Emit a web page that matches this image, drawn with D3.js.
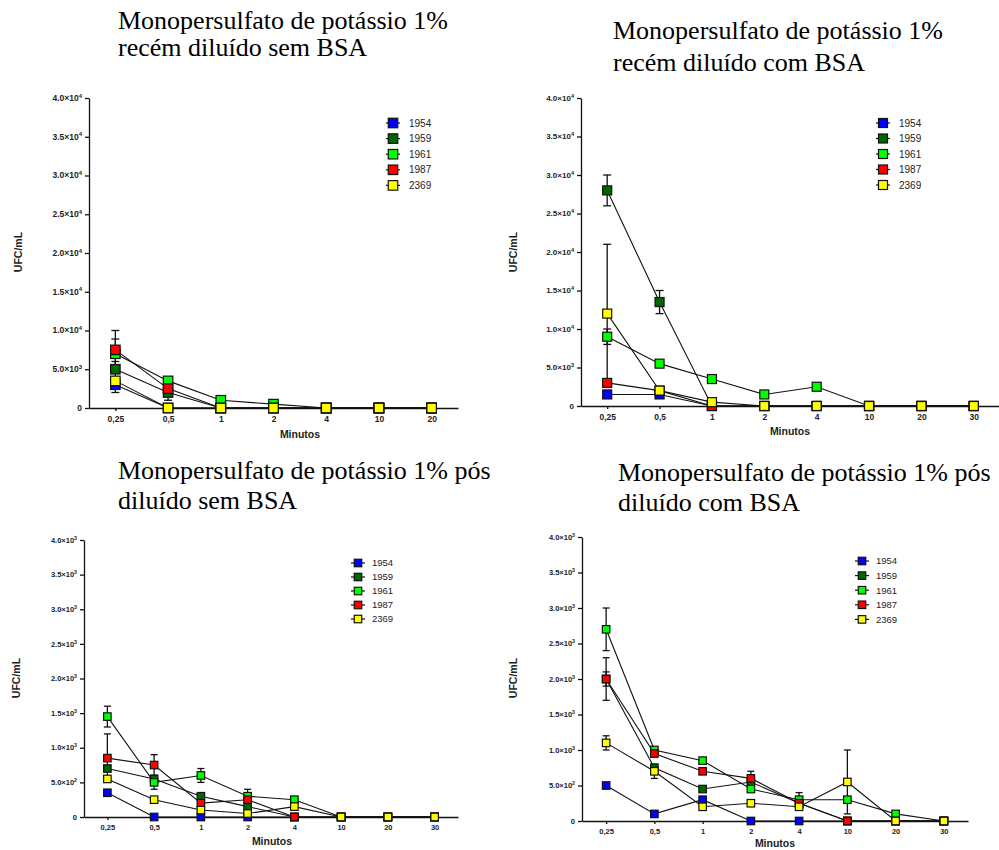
<!DOCTYPE html>
<html><head><meta charset="utf-8">
<script src="https://cdn.jsdelivr.net/npm/d3@7"></script>
<style>body{margin:0;background:#fff}svg{display:block}</style>
</head><body>
<script>
// ---------- DATA ----------
const strains = ["1954", "1959", "1961", "1987", "2369"];
const catsA = ["0,25", "0,5", "1", "2", "4", "10", "20"];
const catsB = ["0,25", "0,5", "1", "2", "4", "10", "20", "30"];

const ticksTop = [0, 5000, 10000, 15000, 20000, 25000, 30000, 35000, 40000];
const tickLabelsTop = [["0", ""], ["5.0×10", "3"], ["1.0×10", "4"], ["1.5×10", "4"], ["2.0×10", "4"], ["2.5×10", "4"], ["3.0×10", "4"], ["3.5×10", "4"], ["4.0×10", "4"]];
const ticksBottom = [0, 500, 1000, 1500, 2000, 2500, 3000, 3500, 4000];
const tickLabelsBottom = [["0", ""], ["5.0×10", "2"], ["1.0×10", "3"], ["1.5×10", "3"], ["2.0×10", "3"], ["2.5×10", "3"], ["3.0×10", "3"], ["3.5×10", "3"], ["4.0×10", "3"]];

// Panel 1: recém diluído sem BSA
const p1Values = [
  [3000, 0, 0, 0, 0, 0, 0],
  [5000, 2000, 0, 0, 0, 0, 0],
  [7000, 3500, 1000, 500, 0, 0, 0],
  [7500, 2500, 0, 0, 0, 0, 0],
  [3500, 0, 0, 0, 0, 0, 0]
];
const p1Errors = [
  [1000, 0, 0, 0, 0, 0, 0],
  [1000, 1000, 0, 0, 0, 0, 0],
  [1900, 0, 0, 0, 0, 0, 0],
  [2500, 0, 0, 0, 0, 0, 0],
  [0, 0, 0, 0, 0, 0, 0]
];
// Panel 2: recém diluído com BSA
const p2Values = [
  [1500, 1500, 0, 0, 0, 0, 0, 0],
  [28000, 13500, 0, 0, 0, 0, 0, 0],
  [9000, 5500, 3500, 1500, 2500, 0, 0, 0],
  [3000, 2000, 0, 0, 0, 0, 0, 0],
  [12000, 2000, 500, 0, 0, 0, 0, 0]
];
const p2Errors = [
  [0, 0, 0, 0, 0, 0, 0, 0],
  [2000, 1500, 0, 0, 0, 0, 0, 0],
  [1000, 0, 0, 0, 0, 0, 0, 0],
  [500, 0, 0, 0, 0, 0, 0, 0],
  [9000, 0, 0, 0, 0, 0, 0, 0]
];
// Panel 3: pós diluído sem BSA
const p3Values = [
  [350, 0, 0, 0, 0, 0, 0, 0],
  [700, 550, 300, 150, 0, 0, 0, 0],
  [1450, 500, 600, 300, 250, 0, 0, 0],
  [850, 750, 200, 250, 0, 0, 0, 0],
  [550, 250, 100, 50, 150, 0, 0, 0]
];
const p3Errors = [
  [0, 0, 0, 0, 0, 0, 0, 0],
  [0, 0, 0, 0, 0, 0, 0, 0],
  [150, 100, 100, 100, 0, 0, 0, 0],
  [350, 150, 0, 0, 0, 0, 0, 0],
  [0, 0, 0, 0, 0, 0, 0, 0]
];
// Panel 4: pós diluído com BSA
const p4Values = [
  [500, 100, 300, 0, 0, 0, 0, 0],
  [2000, 750, 450, 550, 250, 0, 0, 0],
  [2700, 1000, 850, 450, 300, 300, 100, 0],
  [2000, 950, 700, 600, 250, 0, 0, 0],
  [1100, 700, 200, 250, 200, 550, 0, 0]
];
const p4Errors = [
  [0, 0, 0, 0, 0, 0, 0, 0],
  [100, 0, 0, 0, 0, 0, 0, 0],
  [300, 0, 0, 0, 100, 0, 0, 0],
  [300, 0, 0, 100, 0, 0, 0, 0],
  [100, 100, 0, 0, 0, 450, 0, 0]
];
const titles = [
  ["Monopersulfato de potássio 1%", "recém diluído sem BSA"],
  ["Monopersulfato de potássio 1%", "recém diluído com BSA"],
  ["Monopersulfato de potássio 1% pós", "diluído sem BSA"],
  ["Monopersulfato de potássio 1% pós", "diluído com BSA"]
];

// ---------- STYLE / LAYOUT ----------
const colors = ["#0000ff", "#006600", "#00ff00", "#ff0000", "#ffff00"];
const SANS = "Arial, 'Liberation Sans', sans-serif";
const SERIF = "'Times New Roman', 'Liberation Serif', serif";

const svg = d3.select("body").append("svg").attr("width", 999).attr("height", 850);

const panels = [
  {cats: catsA, values: p1Values, errors: p1Errors, max: 40000, ticks: ticksTop, tlabels: tickLabelsTop,
   x0: 89, x1: 458, yTop: 98, yZero: 408, ms: 9.5, cap: 8, tfs: 8.5, xfs: 8.5,
   legX: 393, legY: 123, legDy: 15.6, legTx: 409, legFs: 10,
   ylab: [18, 252], xlab: [300, 438], title: {x: 118, y1: 29, y2: 56}},
  {cats: catsB, values: p2Values, errors: p2Errors, max: 40000, ticks: ticksTop, tlabels: tickLabelsTop,
   x0: 581, x1: 1000, yTop: 98, yZero: 406, ms: 9, cap: 8, tfs: 8, xfs: 8.5,
   legX: 883, legY: 123, legDy: 15.5, legTx: 899, legFs: 10,
   ylab: [513, 252], xlab: [790, 435], title: {x: 613, y1: 39, y2: 71}},
  {cats: catsB, values: p3Values, errors: p3Errors, max: 4000, ticks: ticksBottom, tlabels: tickLabelsBottom,
   x0: 84, x1: 458, yTop: 540, yZero: 817, ms: 7.5, cap: 7, tfs: 7.5, xfs: 7.5,
   legX: 358, legY: 563, legDy: 14, legTx: 372, legFs: 9.5,
   ylab: [16, 678], xlab: [272, 845], title: {x: 118, y1: 479, y2: 509}},
  {cats: catsB, values: p4Values, errors: p4Errors, max: 4000, ticks: ticksBottom, tlabels: tickLabelsBottom,
   x0: 582, x1: 968, yTop: 537, yZero: 821, ms: 7.5, cap: 7, tfs: 7.5, xfs: 7.5,
   legX: 862, legY: 561, legDy: 14.6, legTx: 876, legFs: 9.5,
   ylab: [513, 678], xlab: [775, 847], title: {x: 618, y1: 481, y2: 511}}
];

panels.forEach((cfg, pi) => {
  const g = svg.append("g");
  const x = d3.scalePoint().domain(cfg.cats).range([cfg.x0, cfg.x1]).padding(0.5);
  const y = d3.scaleLinear().domain([0, cfg.max]).range([cfg.yZero, cfg.yTop]);

  // title
  const t = g.append("text").attr("font-family", SERIF).attr("font-size", 26).attr("fill", "#000");
  t.append("tspan").attr("x", cfg.title.x).attr("y", cfg.title.y1).text(titles[pi][0]);
  t.append("tspan").attr("x", cfg.title.x).attr("y", cfg.title.y2).text(titles[pi][1]);

  // y axis
  const ya = g.append("g").attr("transform", `translate(${cfg.x0},0)`)
    .call(d3.axisLeft(y).tickValues(cfg.ticks).tickSize(4).tickSizeOuter(0).tickFormat(""));
  ya.selectAll("path,line").attr("stroke", "#111").attr("stroke-width", 1.3);
  cfg.ticks.forEach((v, i) => {
    const lab = cfg.tlabels[i];
    const tx = g.append("text").attr("x", cfg.x0 - 7).attr("y", y(v) + cfg.tfs * 0.35)
      .attr("text-anchor", "end").attr("font-family", SANS).attr("font-weight", "bold")
      .attr("font-size", cfg.tfs).attr("fill", "#222");
    tx.append("tspan").text(lab[0]);
    if (lab[1]) tx.append("tspan").attr("dy", -cfg.tfs * 0.4).attr("font-size", cfg.tfs * 0.7).text(lab[1]);
  });

  // x axis
  const xa = g.append("g").attr("transform", `translate(0,${cfg.yZero})`)
    .call(d3.axisBottom(x).tickSize(3).tickSizeOuter(0));
  xa.selectAll("path,line").attr("stroke", "#111").attr("stroke-width", 1.3);
  xa.selectAll("text").attr("font-family", SANS).attr("font-weight", "bold")
    .attr("font-size", cfg.xfs).attr("fill", "#222").attr("dy", "0.9em");

  // axis titles
  g.append("text").attr("transform", `translate(${cfg.ylab[0]},${cfg.ylab[1]}) rotate(-90)`)
    .attr("text-anchor", "middle").attr("dy", "0.35em").attr("font-family", SANS).attr("font-weight", "bold")
    .attr("font-size", 10.5).attr("fill", "#222").text("UFC/mL");
  g.append("text").attr("x", cfg.xlab[0]).attr("y", cfg.xlab[1]).attr("text-anchor", "middle")
    .attr("font-family", SANS).attr("font-weight", "bold").attr("font-size", 10.5).attr("fill", "#222").text("Minutos");

  // lines
  const line = d3.line().x((d, i) => x(cfg.cats[i])).y(d => y(d));
  cfg.values.forEach((vals) => {
    g.append("path").attr("d", line(vals)).attr("fill", "none").attr("stroke", "#111").attr("stroke-width", 1.1);
  });
  // error bars
  cfg.values.forEach((vals, si) => {
    vals.forEach((v, i) => {
      const e = cfg.errors[si][i];
      if (!e) return;
      const cx = x(cfg.cats[i]);
      const lo = Math.max(0, v - e), hi = v + e;
      g.append("line").attr("x1", cx).attr("x2", cx).attr("y1", y(lo)).attr("y2", y(hi)).attr("stroke", "#111").attr("stroke-width", 1.3);
      [lo, hi].forEach(b => g.append("line").attr("x1", cx - cfg.cap / 2).attr("x2", cx + cfg.cap / 2)
        .attr("y1", y(b)).attr("y2", y(b)).attr("stroke", "#111").attr("stroke-width", 1.3));
    });
  });
  // markers
  cfg.values.forEach((vals, si) => {
    g.selectAll(null).data(vals).enter().append("rect")
      .attr("x", (d, i) => x(cfg.cats[i]) - cfg.ms / 2).attr("y", d => y(d) - cfg.ms / 2)
      .attr("width", cfg.ms).attr("height", cfg.ms)
      .attr("fill", colors[si]).attr("stroke", "#111").attr("stroke-width", 1.2);
  });

  // legend
  strains.forEach((s, si) => {
    const ly = cfg.legY + si * cfg.legDy;
    g.append("line").attr("x1", cfg.legX - 7).attr("x2", cfg.legX + 7).attr("y1", ly).attr("y2", ly)
      .attr("stroke", "#111").attr("stroke-width", 1.2);
    g.append("rect").attr("x", cfg.legX - cfg.ms / 2).attr("y", ly - cfg.ms / 2).attr("width", cfg.ms).attr("height", cfg.ms)
      .attr("fill", colors[si]).attr("stroke", "#111").attr("stroke-width", 1.2);
    g.append("text").attr("x", cfg.legTx).attr("y", ly).attr("dy", "0.35em").attr("font-family", SANS)
      .attr("font-size", cfg.legFs).attr("fill", "#222").text(s);
  });
});
</script>
</body></html>
